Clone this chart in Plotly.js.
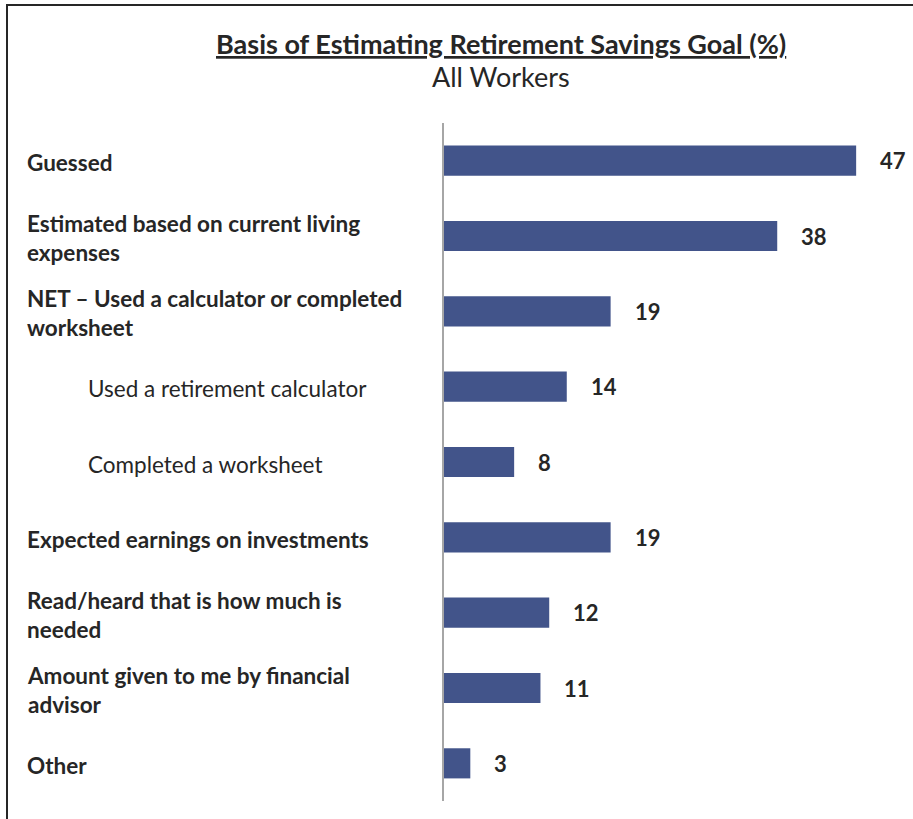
<!DOCTYPE html>
<html>
<head>
<meta charset="utf-8">
<script src="https://cdn.plot.ly/plotly-3.0.1.min.js"></script>
<style>
  html, body { margin: 0; padding: 0; background: #fff; }
  #frame { position: absolute; left: 6px; top: 4px; width: 920px; height: 830px;
           border-left: 2px solid #262626; border-top: 2px solid #262626; box-sizing: border-box; }
  #chart { position: absolute; left: 0; top: 0; width: 913px; height: 819px; }
</style>
</head>
<body>
<div id="frame"></div>
<div id="chart"></div>
<script>
const categories = [
  "Guessed",
  "Estimated based on current living<br>expenses",
  "NET – Used a calculator or completed<br>worksheet",
  "Used a retirement calculator",
  "Completed a worksheet",
  "Expected earnings on investments",
  "Read/heard that is how much is<br>needed",
  "Amount given to me by financial<br>advisor",
  "Other"
];
const values = [47, 38, 19, 14, 8, 19, 12, 11, 3];
const subItem = [false, false, false, true, true, false, false, false, false];

const FONT = "Lato, 'Noto Sans', sans-serif";
const W = 913, H = 819;
const margin = {l: 444, r: 13, t: 123, b: 18};
const plotW = W - margin.l - margin.r;

const ids = categories.map((c, i) => "c" + i);

const annotations = [];
categories.forEach((c, i) => {
  const px = subItem[i] ? 86 : 25;
  annotations.push({
    xref: "paper", yref: "y", x: (px - margin.l) / plotW, y: ids[i],
    text: subItem[i] ? c : "<b>" + c + "</b>",
    showarrow: false, xanchor: "left", yanchor: "middle", align: "left",
    yshift: -2,
    font: {family: FONT, size: 22.5, color: "#262626"}
  });
  annotations.push({
    xref: "x", yref: "y", x: values[i], y: ids[i],
    text: "<b>" + values[i] + "</b>", showarrow: false,
    xanchor: "left", yanchor: "middle", xshift: 22,
    font: {family: FONT, size: 22, color: "#262626"}
  });
});
annotations.push({
  xref: "paper", yref: "paper", x: (501 - margin.l) / plotW, y: 1, yshift: 80,
  text: "<b><span style='text-decoration:underline'>Basis of Estimating Retirement Savings Goal (%)</span></b>",
  showarrow: false, xanchor: "center", yanchor: "middle",
  font: {family: FONT, size: 27, color: "#262626"}
});
annotations.push({
  xref: "paper", yref: "paper", x: (501 - margin.l) / plotW, y: 1, yshift: 47,
  text: "All Workers",
  showarrow: false, xanchor: "center", yanchor: "middle",
  font: {family: FONT, size: 27, color: "#262626"}
});

const data = [{
  type: "bar", orientation: "h",
  x: values, y: ids,
  marker: {color: "#42548A", line: {width: 0}},
  hoverinfo: "none"
}];

const layout = {
  width: W, height: H,
  margin: margin,
  paper_bgcolor: "rgba(0,0,0,0)", plot_bgcolor: "rgba(0,0,0,0)",
  bargap: 0.6,
  showlegend: false,
  xaxis: {range: [0, 52], showgrid: false, zeroline: false, showticklabels: false, showline: false, fixedrange: true},
  yaxis: {autorange: "reversed", showgrid: false, zeroline: false, showticklabels: false,
          showline: true, linecolor: "#A6A6A6", linewidth: 2, ticks: "", fixedrange: true},
  annotations: annotations
};

Plotly.newPlot("chart", data, layout, {displayModeBar: false, staticPlot: true});
</script>
</body>
</html>
